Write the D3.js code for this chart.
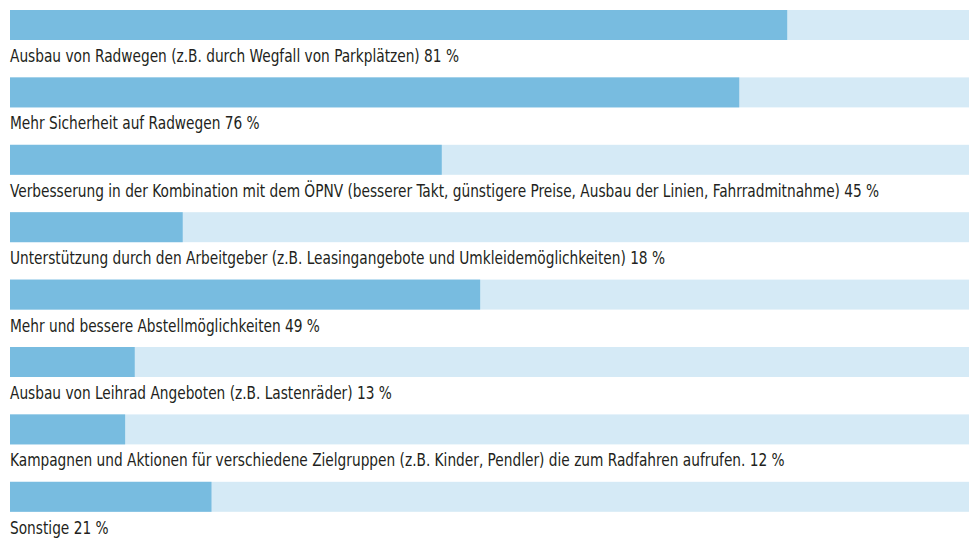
<!DOCTYPE html>
<html>
<head>
<meta charset="utf-8">
<script src="https://cdn.jsdelivr.net/npm/d3@7"></script>
<style>
  html, body { margin: 0; padding: 0; background: #fff; }
  svg { display: block; }
  .label { font-family: "Liberation Sans Narrow", "DejaVu Sans Condensed", "Roboto Condensed", sans-serif; font-size: 17px; fill: #231f20; }
</style>
</head>
<body>
<svg id="chart" width="969" height="540"></svg>
<script>
// Survey answers: what would make cycling more attractive
const categories = [
  "Ausbau von Radwegen (z.B. durch Wegfall von Parkplätzen)",
  "Mehr Sicherheit auf Radwegen",
  "Verbesserung in der Kombination mit dem ÖPNV (besserer Takt, günstigere Preise, Ausbau der Linien, Fahrradmitnahme)",
  "Unterstützung durch den Arbeitgeber (z.B. Leasingangebote und Umkleidemöglichkeiten)",
  "Mehr und bessere Abstellmöglichkeiten",
  "Ausbau von Leihrad Angeboten (z.B. Lastenräder)",
  "Kampagnen und Aktionen für verschiedene Zielgruppen (z.B. Kinder, Pendler) die zum Radfahren aufrufen.",
  "Sonstige"
];
const values = [81, 76, 45, 18, 49, 13, 12, 21];
const maxValue = 100;

const svg = d3.select("#chart");

const x = d3.scaleLinear().domain([0, maxValue]).range([10, 969.5]);
const y = d3.scaleBand()
  .domain(categories)
  .range([10, 511.8])
  .paddingInner(0.555)
  .paddingOuter(0)
  .align(0);

const rows = svg.selectAll("g.row")
  .data(categories.map((c, i) => ({ name: c, value: values[i] })))
  .join("g")
  .attr("class", "row");

// full-width track
rows.append("rect")
  .attr("x", x(0))
  .attr("y", d => y(d.name))
  .attr("width", x(maxValue) - x(0))
  .attr("height", y.bandwidth())
  .attr("fill", "#d5eaf6");

// value bar
rows.append("rect")
  .attr("x", x(0))
  .attr("y", d => y(d.name))
  .attr("width", d => x(d.value) - x(0))
  .attr("height", y.bandwidth())
  .attr("fill", "#78bce0");

// caption under each bar, set in a narrow face
const labels = rows.append("text")
  .attr("class", "label")
  .text(d => `${d.name} ${d.value} %`);

// squeeze the captions horizontally so the longest one ends at x = 880
const longest = d3.max(labels.nodes(), n => n.getComputedTextLength());
const squeeze = Math.min(1, 870 / longest);
labels.attr("transform", d => `translate(${x(0)},${y(d.name) + y.bandwidth() + 22}) scale(${squeeze},1)`);
</script>
</body>
</html>
